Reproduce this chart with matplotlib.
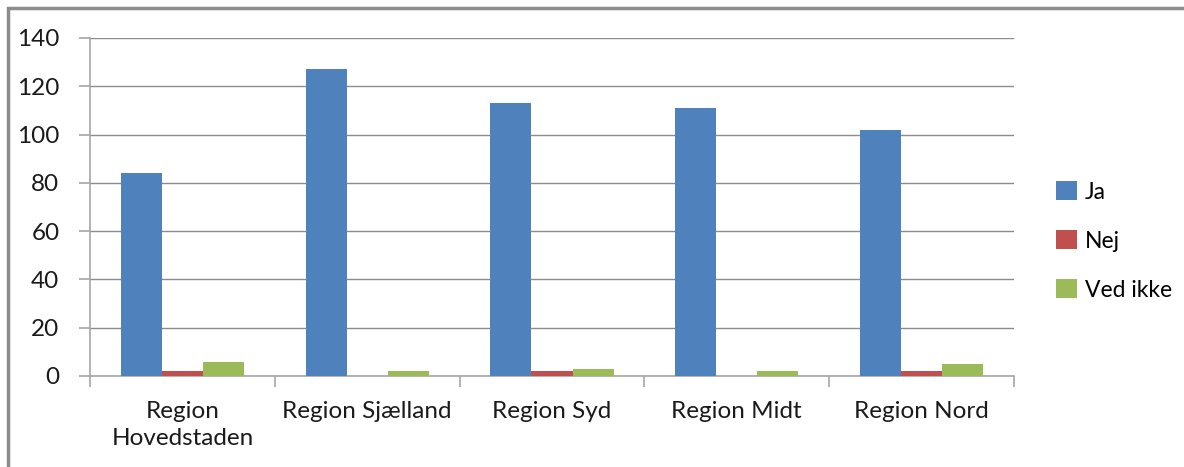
import matplotlib
matplotlib.use("Agg")
import matplotlib.pyplot as plt
import numpy as np
from matplotlib.patches import Rectangle

categories = ["Region\nHovedstaden", "Region Sjælland", "Region Syd", "Region Midt", "Region Nord"]
series_names = ["Ja", "Nej", "Ved ikke"]
ja = [84, 127, 113, 111, 102]
nej = [2, 0, 2, 0, 2]
ved_ikke = [6, 2, 3, 2, 5]
yticks = [0, 20, 40, 60, 80, 100, 120, 140]

colors = ["#4F81BD", "#C0504D", "#9BBB59"]

plt.rcParams['font.family'] = ['Lato', 'DejaVu Sans']
FS = 17.5

fig = plt.figure(figsize=(11.84, 4.67), dpi=100)
ax = fig.add_axes([90/1184, 1-376/467, (1014-90)/1184, (376-38)/467])

# outer border (left & top visible)
fig.patches.append(Rectangle((8/1184, -0.1), 1.2, 1-8/467+0.1, transform=fig.transFigure,
                             fill=False, edgecolor="#8c8c8c", linewidth=2.5))

x = np.arange(len(categories))
w = 0.222
for i, (vals, name) in enumerate(zip([ja, nej, ved_ikke], series_names)):
    ax.bar(x + (i - 1) * w, vals, width=w, color=colors[i], label=name, zorder=3)

ax.set_xlim(-0.5, len(categories) - 0.5)
ax.set_ylim(0, 140)
ax.set_yticks(yticks)
ax.yaxis.grid(True, color="#8c8c8c", linewidth=1, zorder=0)
for s in ["top", "right"]:
    ax.spines[s].set_visible(False)
for s in ["left", "bottom"]:
    ax.spines[s].set_color("#a6a6a6")
    ax.spines[s].set_linewidth(1.2)

ax.set_xticks(np.arange(len(categories) + 1) - 0.5, minor=False)
ax.set_xticklabels([])
ax.set_xticks(x, minor=True)
ax.set_xticklabels(categories, minor=True, fontsize=FS, color="#1a1a1a", linespacing=1.35)
ax.tick_params(axis="x", which="major", length=8, color="#a6a6a6", width=1.2)
ax.tick_params(axis="x", which="minor", length=0, pad=18)
ax.tick_params(axis="y", length=8, color="#a6a6a6", width=1.2, labelsize=FS, pad=14, labelcolor="#1a1a1a")

leg = ax.legend(loc="center left", bbox_to_anchor=(1056/1184, 1-241/467), bbox_transform=fig.transFigure,
                frameon=False, fontsize=16.5, handlelength=0.9, handleheight=0.9, handletextpad=0.35,
                labelspacing=1.2, borderaxespad=0, borderpad=0)

fig.savefig("out.png", dpi=100)
